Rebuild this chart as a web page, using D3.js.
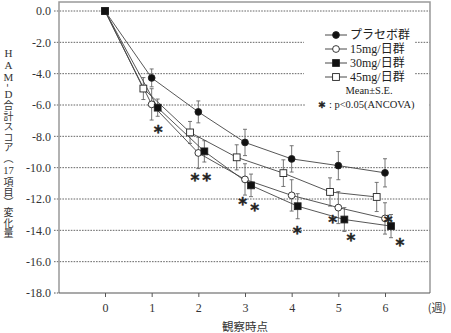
<!DOCTYPE html>
<html><head><meta charset="utf-8">
<script src="https://cdn.jsdelivr.net/npm/d3@7"></script>
<style>html,body{margin:0;padding:0;background:#fff}svg{display:block}</style>
</head><body><svg id="c" width="451" height="333"></svg>
<script>
const weeks = [0, 1, 2, 3, 4, 5, 6];
const yTicks = [0, -2, -4, -6, -8, -10, -12, -14, -16, -18];
const seriesNames = ["プラセボ群", "15mg/日群", "30mg/日群", "45mg/日群"];
const placebo = [0, -4.27, -6.44, -8.39, -9.44, -9.87, -10.33];
const mg15 = [0, -5.96, -9.06, -10.75, -11.77, -12.55, -13.24];
const mg30 = [0, -6.17, -8.96, -11.13, -12.46, -13.31, -13.73];
const mg45 = [0, -4.95, -7.75, -9.34, -10.35, -11.55, -11.87];
const placeboSE = [0, 0.57, 0.70, 0.84, 0.84, 0.90, 0.90];
const mg15SE = [0, 1.00, 1.00, 1.00, 1.00, 1.02, 1.00];
const mg30SE = [0, 0.55, 0.68, 0.72, 0.80, 0.76, 0.74];
const mg45SE = [0, 0.70, 0.70, 0.80, 0.85, 0.90, 0.93];
// significance asterisks: [week position, value]
const sigMarks = [[1.14, -7.38], [1.93, -10.47], [2.18, -10.47], [2.95, -12.0], [3.21, -12.38],
  [4.12, -13.83], [4.88, -13.13], [5.27, -14.3], [6.07, -13.13], [6.32, -14.6]];
// vertical y-axis title in three parts
const yTitleA = [["HAM", "lat"], ["-", "dash"], ["D", "lat"], ["合計スコア︵", "cjk"]];
const yTitleB = "17";
const yTitleC = "項目︶変化量";

const serif = "'Liberation Serif','Noto Sans CJK JP',serif";
const cjk = "'Noto Sans CJK JP','Liberation Serif',sans-serif";
const astFont = "'DejaVu Sans',sans-serif";

const svg = d3.select("#c");
const x = d3.scaleLinear().domain([0, 6]).range([105, 385]);
const y = d3.scaleLinear().domain([0, -18]).range([11, 293]);
const pL = 59, pR = 430, pT = 2, pB = 293;

// gridlines
svg.append("g").selectAll("line").data(yTicks.slice(0, -1)).join("line")
  .attr("x1", pL - 5).attr("x2", pR).attr("y1", d => y(d)).attr("y2", d => y(d))
  .attr("stroke", "#555").attr("stroke-width", 0.9).attr("stroke-dasharray", "1.6,1.2");
// frame
svg.append("path").attr("d", `M${pL},${pB}V${pT}H${pR}V${pB}`)
  .attr("fill", "none").attr("stroke", "#999").attr("stroke-width", 1.5);
// y labels
svg.append("g").selectAll("text").data(yTicks).join("text")
  .attr("x", 51).attr("y", d => y(d)).attr("dy", "0.35em").attr("text-anchor", "end")
  .attr("font-family", serif).attr("font-size", 12).attr("fill", "#333")
  .text(d => d.toFixed(1));
svg.append("line").attr("x1", pL - 5).attr("x2", pL).attr("y1", pB).attr("y2", pB)
  .attr("stroke", "#555").attr("stroke-dasharray", "1.6,1.2");
// x axis
const xAxis = d3.axisBottom(x).tickValues(weeks).tickSize(4).tickPadding(6).tickFormat(d3.format("d"));
const gx = svg.append("g").attr("transform", `translate(0,${pB})`).call(xAxis);
gx.select(".domain").attr("d", `M${pL},0H${pR}`).attr("stroke", "#555").attr("stroke-width", 1.2);
gx.selectAll(".tick line").attr("stroke", "#555");
gx.selectAll(".tick text").attr("font-family", serif).attr("font-size", 12).attr("fill", "#333");
svg.append("text").attr("x", 437).attr("y", 312).attr("text-anchor", "middle")
  .attr("font-family", cjk).attr("font-size", 11).attr("fill", "#333").text("(週)");
svg.append("text").attr("x", 245).attr("y", 331).attr("text-anchor", "middle")
  .attr("font-family", cjk).attr("font-size", 11.5).attr("fill", "#333").text("観察時点");

// y-axis title (vertical writing), spacing fitted to target spans
function fitVertical(sel, start, end, nChars) {
  sel.attr("y", start).style("letter-spacing", "0px");
  const h = sel.node().getBBox().height;
  const ls = Math.max(0, (end - start - h) / nChars);
  sel.style("letter-spacing", ls + "px");
}
const vCommon = s => s.attr("x", 8.5).attr("text-anchor", "start").attr("fill", "#333")
  .style("writing-mode", "vertical-rl").style("text-orientation", "upright");
const tA = svg.append("text").call(vCommon).attr("font-family", cjk).attr("font-size", 10);
yTitleA.forEach(([s, f]) => {
  const ts = tA.append("tspan").attr("font-family", f === "cjk" ? cjk : serif)
    .attr("font-size", f === "cjk" ? 10 : 11).text(s);
  if (f === "dash") ts.style("text-orientation", "sideways");
});
fitVertical(tA, 46.5, 163.5, 10);
svg.append("text").attr("x", 8.5).attr("y", 173.8).attr("text-anchor", "middle")
  .attr("font-family", serif).attr("font-size", 10.5).attr("fill", "#333").text(yTitleB);
const tC = svg.append("text").call(vCommon).attr("font-family", cjk).attr("font-size", 10).text(yTitleC);
fitVertical(tC, 177.5, 238, 5);

// legend background
svg.append("rect").attr("x", 304).attr("y", 26).attr("width", 111).attr("height", 72).attr("fill", "#fff");
svg.append("rect").attr("x", 305).attr("y", 98).attr("width", 123).attr("height", 12).attr("fill", "#fff");

const series = [
  { name: seriesNames[0], v: placebo, se: placeboSE, off: 0, shape: "circle", fill: "#111" },
  { name: seriesNames[1], v: mg15, se: mg15SE, off: 0, shape: "circle", fill: "#fff" },
  { name: seriesNames[2], v: mg30, se: mg30SE, off: 0.129, shape: "square", fill: "#111" },
  { name: seriesNames[3], v: mg45, se: mg45SE, off: -0.178, shape: "square", fill: "#fff" }
];
const px = (s, i) => x(weeks[i] + (i === 0 ? 0 : s.off));
const lineGen = d3.line();

function marker(g, s, cx, cy) {
  if (s.shape === "circle") {
    g.append("circle").attr("cx", cx).attr("cy", cy).attr("r", 3.4)
      .attr("fill", s.fill).attr("stroke", "#222").attr("stroke-width", 0.9);
  } else {
    g.append("rect").attr("x", cx - 3.4).attr("y", cy - 3.4).attr("width", 6.8).attr("height", 6.8)
      .attr("fill", s.fill).attr("stroke", "#222").attr("stroke-width", 0.9);
  }
}

// error bars
const eg = svg.append("g").attr("stroke", "#666").attr("stroke-width", 0.9);
series.forEach(s => {
  weeks.forEach((w, i) => {
    if (i === 0) return;
    const cx = px(s, i);
    const y1 = y(s.v[i] + s.se[i]), y2 = y(s.v[i] - s.se[i]);
    eg.append("line").attr("x1", cx).attr("x2", cx).attr("y1", y1).attr("y2", y2);
    eg.append("line").attr("x1", cx - 2).attr("x2", cx + 2).attr("y1", y1).attr("y2", y1);
    eg.append("line").attr("x1", cx - 2).attr("x2", cx + 2).attr("y1", y2).attr("y2", y2);
  });
});
// lines
series.forEach(s => {
  svg.append("path").attr("d", lineGen(weeks.map((w, i) => [px(s, i), y(s.v[i])])))
    .attr("fill", "none").attr("stroke", "#444").attr("stroke-width", 0.9);
});
// markers
const mg = svg.append("g");
[series[0], series[3], series[1], series[2]].forEach(s => {
  weeks.forEach((w, i) => marker(mg, s, px(s, i), y(s.v[i])));
});

// asterisks
svg.append("g").selectAll("text").data(sigMarks).join("text")
  .attr("x", d => x(d[0])).attr("y", d => y(d[1])).attr("dy", "0.64em").attr("text-anchor", "middle")
  .attr("font-family", astFont).attr("font-size", 17).attr("font-weight", "bold")
  .attr("fill", "#222").attr("stroke", "#222").attr("stroke-width", 0.4).text("*");

// legend
const lg = svg.append("g");
series.forEach((s, i) => {
  const ly = 35 + i * 14;
  lg.append("line").attr("x1", 325).attr("x2", 347).attr("y1", ly).attr("y2", ly).attr("stroke", "#333").attr("stroke-width", 0.9);
  marker(lg, s, 336, ly);
  lg.append("text").attr("x", 350).attr("y", ly).attr("dy", "0.36em")
    .attr("font-family", i === 0 ? cjk : serif).attr("font-size", 12).attr("fill", "#222").text(s.name);
});
lg.append("text").attr("x", 369).attr("y", 90.5).attr("dy", "0.33em").attr("text-anchor", "middle")
  .attr("font-family", serif).attr("font-size", 10.5).attr("fill", "#222").text("Mean±S.E.");
const st = lg.append("text").attr("x", 366).attr("y", 104.5).attr("dy", "0.33em").attr("text-anchor", "middle")
  .attr("font-family", serif).attr("font-size", 10.5).attr("fill", "#222");
st.append("tspan").attr("font-family", astFont).attr("font-weight", "bold")
  .attr("stroke", "#222").attr("stroke-width", 0.3).text("∗");
st.append("tspan").text(" : ");
st.append("tspan").text("p<0.05(ANCOVA)");
</script></body></html>
